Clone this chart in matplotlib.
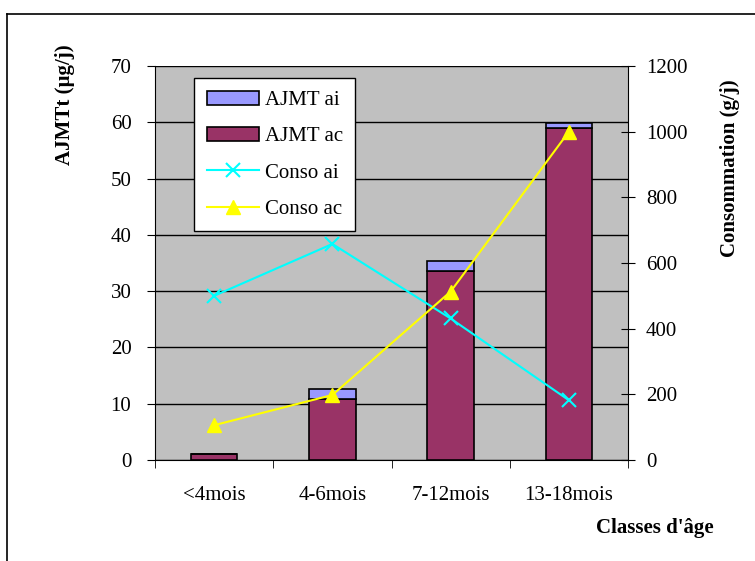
import numpy as np
import matplotlib
matplotlib.use("Agg")
import matplotlib.pyplot as plt
from matplotlib.lines import Line2D

plt.rcParams['font.family'] = ['Liberation Serif', 'DejaVu Serif']

# Data
classes = ['<4mois', '4-6mois', '7-12mois', '13-18mois']
ajmt_ac = [1.0, 10.8, 33.6, 58.9]
ajmt_ai = [0.0, 1.9, 1.8, 0.9]
conso_ai = [500, 658, 431, 182]
conso_ac = [106, 198, 513, 1000]

fs = 15

fig = plt.figure(figsize=(7.55, 5.61), dpi=100)

# outer frame (left and top edges visible)
fig.add_artist(Line2D([7/755, 7/755], [0, 1 - 14/561], color='black', lw=1.2))
fig.add_artist(Line2D([7/755, 1], [1 - 14/561, 1 - 14/561], color='black', lw=1.2))

ax = fig.add_axes([155/755, 1 - 460/561, 473/755, 394/561])
ax.set_facecolor('#C0C0C0')

x = np.arange(len(classes))
w = 0.395
ax.bar(x, ajmt_ac, w, color='#993366', edgecolor='black', lw=1.2, zorder=3, label='AJMT ac')
ax.bar(x, ajmt_ai, w, bottom=ajmt_ac, color='#9999FF', edgecolor='black', lw=1.2, zorder=3, label='AJMT ai')

ax.set_xlim(-0.5, len(classes) - 0.5)
ax.set_ylim(0, 70)
ax.set_yticks(range(0, 71, 10))
ax.yaxis.grid(True, color='black', lw=1)
ax.set_axisbelow(True)
ax.set_xticks(x)
ax.set_xticklabels(classes)
ax.set_xticks(np.arange(-0.5, len(classes)), minor=True)
ax.tick_params(axis='x', which='major', length=0, pad=19, labelsize=fs)
ax.tick_params(axis='x', which='minor', length=6, direction='out')
ax.tick_params(axis='y', length=6, direction='out', labelsize=fs, pad=11)
for s in ['top', 'right']:
    ax.spines[s].set_visible(False)

ax2 = ax.twinx()
ax2.plot(x, conso_ai, color='#00FFFF', marker='x', ms=10, mew=1.5, lw=1.5, zorder=4, label='Conso ai')
ax2.plot(x, conso_ac, color='#FFFF00', marker='^', ms=10, lw=1.5, zorder=4, label='Conso ac')
ax2.set_ylim(0, 1200)
ax2.set_yticks(range(0, 1201, 200))
ax2.tick_params(axis='y', length=10, direction='inout', labelsize=fs, pad=8)
for s in ['top', 'left', 'bottom']:
    ax2.spines[s].set_visible(False)

handles = [
    plt.Rectangle((0, 0), 1, 1, fc='#9999FF', ec='black', lw=1.2),
    plt.Rectangle((0, 0), 1, 1, fc='#993366', ec='black', lw=1.2),
    Line2D([], [], color='#00FFFF', marker='x', ms=10, mew=1.5, lw=1.5),
    Line2D([], [], color='#FFFF00', marker='^', ms=10, lw=1.5),
]
leg = ax2.legend(handles, ['AJMT ai', 'AJMT ac', 'Conso ai', 'Conso ac'],
                 loc='upper left', bbox_to_anchor=(39/473, 1 - 12/394),
                 borderaxespad=0, fontsize=fs, frameon=True, fancybox=False,
                 edgecolor='black', framealpha=1, borderpad=0.6, labelspacing=0.8,
                 handlelength=2.5, handletextpad=0.3)
leg.get_frame().set_linewidth(1)

fig.text(65/755, 1 - 105/561, 'AJMTt (µg/j)', fontsize=fs, fontweight='bold',
         rotation=90, ha='center', va='center')
fig.text(730/755, 1 - 168/561, 'Consommation (g/j)', fontsize=fs, fontweight='bold',
         rotation=90, ha='center', va='center')
fig.text(655/755, 1 - 528/561, "Classes d'âge", fontsize=fs, fontweight='bold',
         ha='center', va='center')

fig.savefig('out.png', dpi=100)
